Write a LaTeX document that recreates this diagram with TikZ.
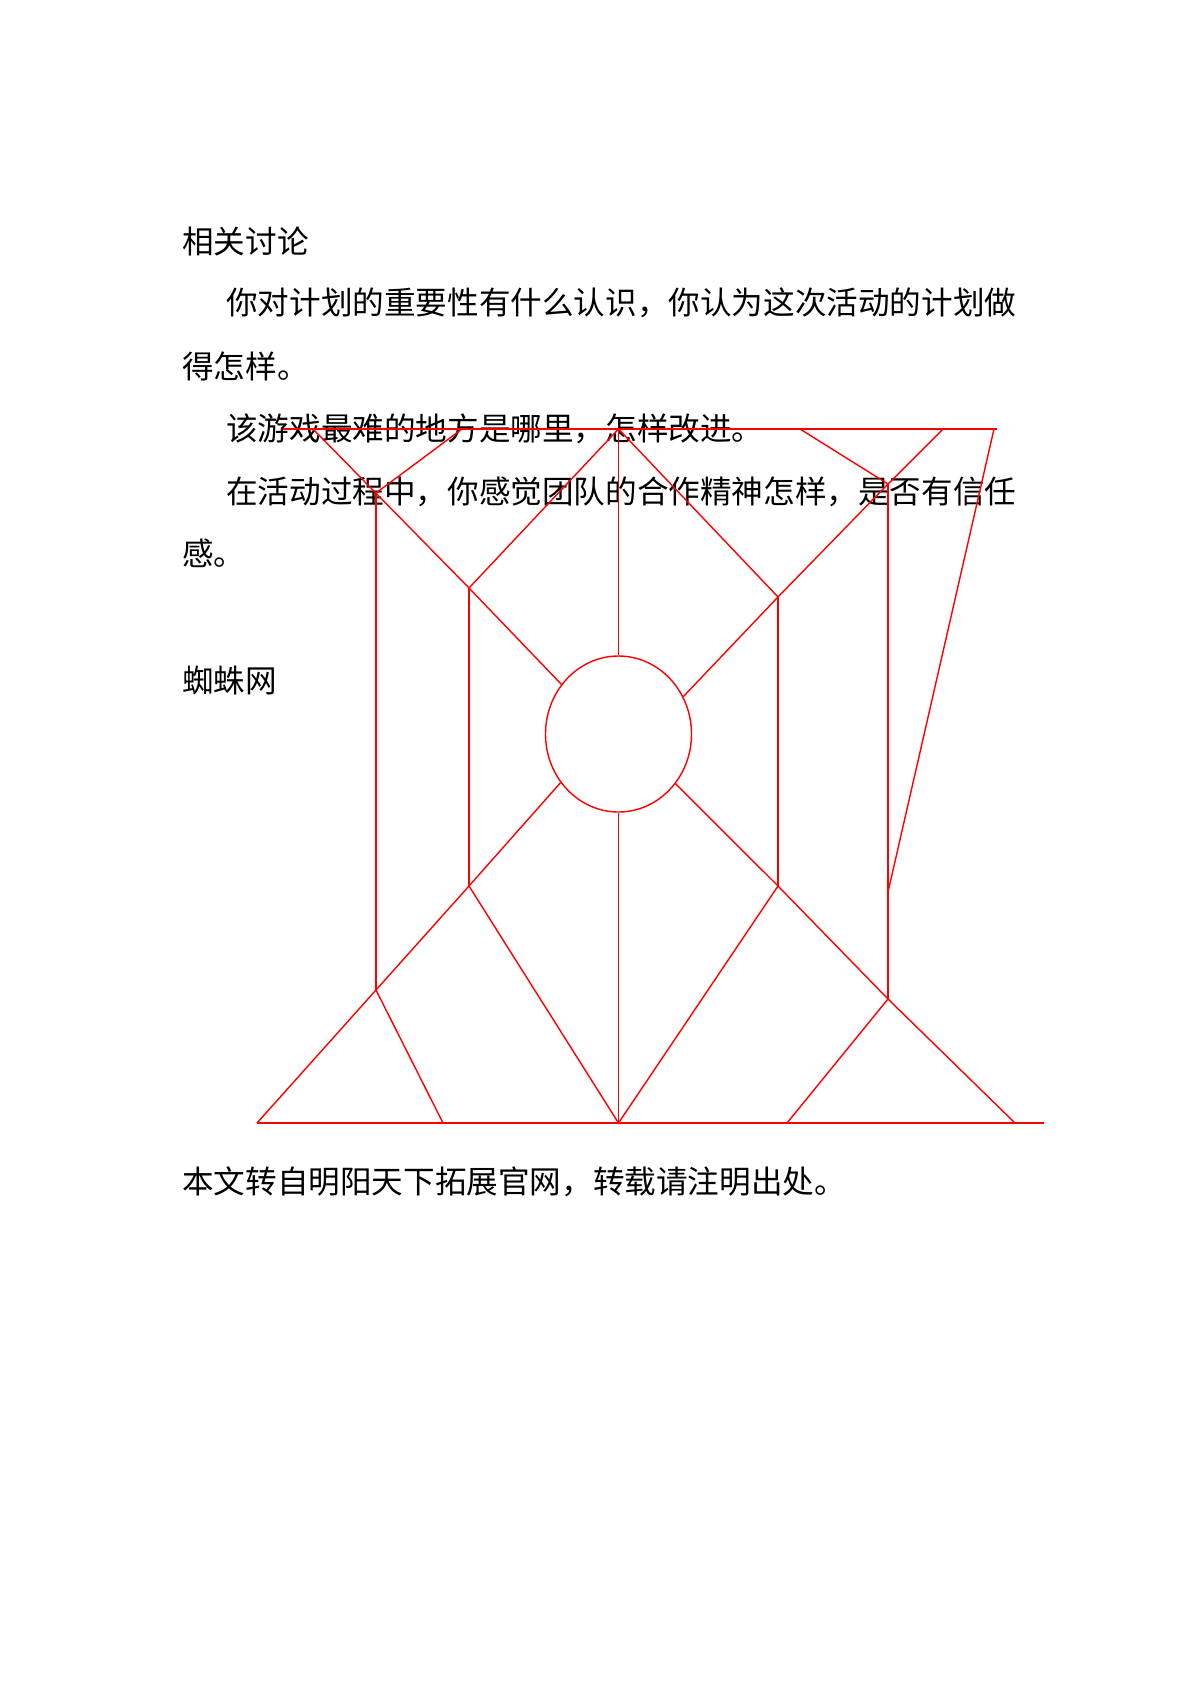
\documentclass[tikz,border=0pt]{standalone}
\usepackage{fontspec}
\newfontfamily\cjk{Noto Sans CJK SC}
\usetikzlibrary{shapes.geometric}

\begin{document}
\begin{tikzpicture}[x=1pt, y=-1pt,
    web/.style={red, line width=1.4pt},
    txt/.style={anchor=base west, inner sep=0pt, font=\cjk\fontsize{31.6}{38}\selectfont}]
    \useasboundingbox (0,0) rectangle (1200,1698);

    \node[txt] (head) at (182,253) {相关讨论};
    \node[txt] (q1a) at (226,314) {你对计划的重要性有什么认识，你认为这次活动的计划做};
    \node[txt] (q1b) at (182,378) {得怎样。};
    \node[txt] (q2) at (226,440) {该游戏最难的地方是哪里，怎样改进。};
    \node[txt] (q3a) at (226,503) {在活动过程中，你感觉团队的合作精神怎样，是否有信任};
    \node[txt] (q3b) at (182,565) {感。};
    \node[txt] (title) at (182,692) {蜘蛛网};
    \node[txt] (src) at (182,1193) {本文转自明阳天下拓展官网，转载请注明出处。};

    \coordinate (tl) at (283,429);   \coordinate (tr) at (997,429);
    \coordinate (a) at (313,429);    \coordinate (b) at (462,429);
    \coordinate (c) at (618.5,429);  \coordinate (d) at (800,429);
    \coordinate (e) at (943,429);    \coordinate (f) at (994,429);
    \coordinate (l1) at (376,493);   \coordinate (l2) at (376,990);
    \coordinate (m1) at (469,588);   \coordinate (m2) at (469,886);
    \coordinate (n1) at (778,597);   \coordinate (n2) at (778,886);
    \coordinate (r1) at (888,484);   \coordinate (r2) at (888,892);
    \coordinate (r3) at (888,999);
    \coordinate (bl) at (257,1123);  \coordinate (br) at (1044,1123);
    \coordinate (p1) at (443,1123);  \coordinate (p2) at (618.5,1123);
    \coordinate (p3) at (787,1123);  \coordinate (p4) at (1015,1123);

    \node[web, draw, ellipse, inner sep=0pt, minimum width=146, minimum height=156] (hub) at (618.5,734) {};

    \draw[web] (tl) -- (tr);
    \draw[web] (bl) -- (br);
    \draw[web] (a) -- (m1) -- (hub.139);
    \draw[web] (b) -- (l1);
    \draw[web] (c) -- (m1);
    \draw[web] (c) -- (hub.north);
    \draw[web] (c) -- (n1);
    \draw[web] (d) -- (r1);
    \draw[web] (e) -- (r1) -- (n1) -- (hub.30);
    \draw[web] (f) -- (r2);
    \draw[web] (l1) -- (l2);
    \draw[web] (m1) -- (m2);
    \draw[web] (n1) -- (n2);
    \draw[web] (r1) -- (r3);
    \draw[web] (hub.220.6) -- (m2) -- (l2) -- (bl);
    \draw[web] (hub.319) -- (n2) -- (r3) -- (p4);
    \draw[web] (hub.south) -- (p2);
    \draw[web] (l2) -- (p1);
    \draw[web] (m2) -- (p2) -- (n2);
    \draw[web] (r3) -- (p3);
\end{tikzpicture}
\end{document}
